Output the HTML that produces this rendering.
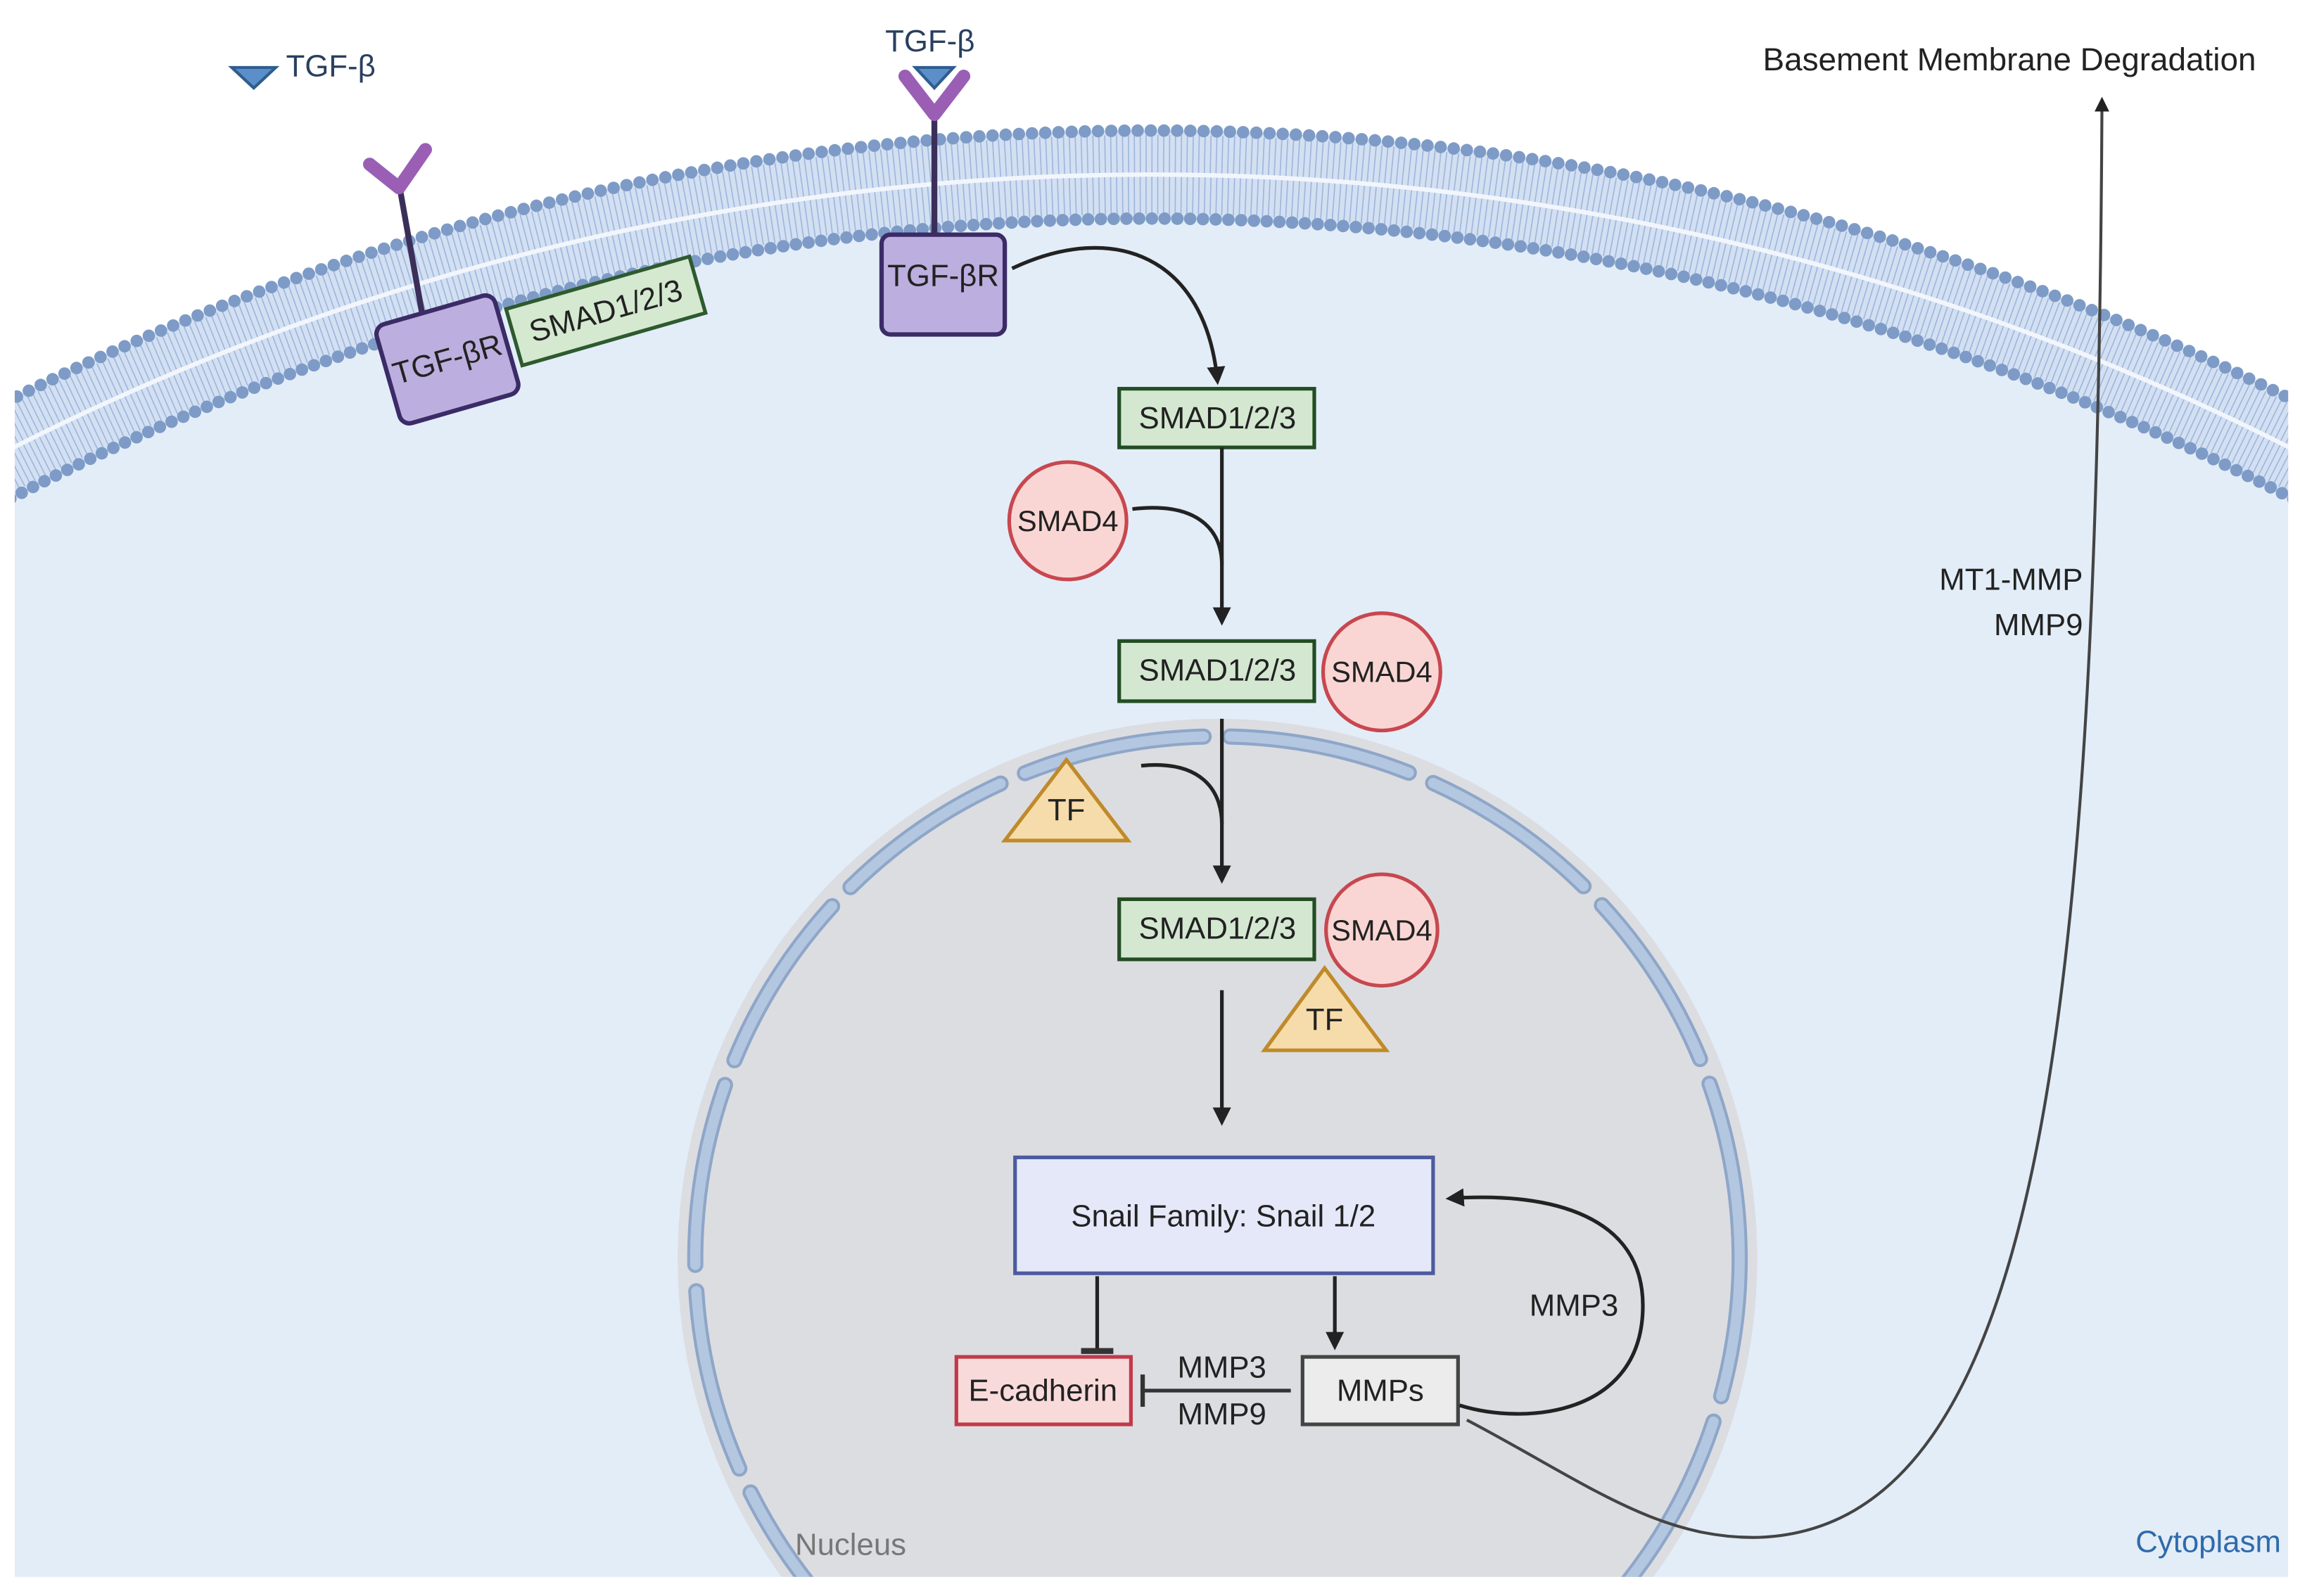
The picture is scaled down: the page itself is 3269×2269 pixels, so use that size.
<!DOCTYPE html>
<html><head><meta charset="utf-8"><style>html,body{margin:0;padding:0;background:#fff;width:3269px;height:2269px;overflow:hidden}svg{display:block}</style></head>
<body>
<svg width="3269" height="2269" viewBox="0 0 1568 1088" preserveAspectRatio="none" xmlns="http://www.w3.org/2000/svg" font-family="Liberation Sans, sans-serif">
<defs>
<marker id="ah" viewBox="0 0 10 10" refX="8" refY="5" markerWidth="5" markerHeight="5" orient="auto"><path d="M0,0L10,5L0,10z" fill="#222"/></marker>
<clipPath id="cell"><rect x="10" y="0" width="1550" height="1075"/></clipPath>
</defs>
<rect width="1568" height="1088" fill="#fff"/>
<g clip-path="url(#cell)">
<circle cx="785" cy="1829" r="1712" fill="#e3edf8"/>
<circle cx="785" cy="1829" r="1710" fill="none" stroke="#d3e0f2" stroke-width="60"/>
<circle cx="785" cy="1829" r="1724" fill="none" stroke="#9fb6dc" stroke-width="26" stroke-dasharray="0.8 3.2"/>
<circle cx="785" cy="1829" r="1696" fill="none" stroke="#9fb6dc" stroke-width="26" stroke-dasharray="0.8 3.2"/>
<circle cx="785" cy="1829" r="1710" fill="none" stroke="#f2f6fc" stroke-width="3"/>
<circle cx="785" cy="1829" r="1740" fill="none" stroke="#7d9bc6" stroke-width="8.5" stroke-linecap="round" stroke-dasharray="0 9"/>
<circle cx="785" cy="1829" r="1680" fill="none" stroke="#7d9bc6" stroke-width="8.5" stroke-linecap="round" stroke-dasharray="0 8.7"/>
<circle cx="830" cy="858" r="368" fill="#dcdde1"/>
<circle cx="830" cy="858" r="356" fill="none" stroke="#8ea6c8" stroke-width="11" stroke-dasharray="125 18" stroke-dashoffset="30" stroke-linecap="round"/>
<circle cx="830" cy="858" r="356" fill="none" stroke="#b4c7e1" stroke-width="7" stroke-dasharray="125 18" stroke-dashoffset="30" stroke-linecap="round"/>
</g>
<rect x="0" y="0" width="10" height="1088" fill="#fff"/>
<rect x="1560" y="0" width="8" height="1088" fill="#fff"/>
<rect x="0" y="1075" width="1568" height="13" fill="#fff"/>

<path d="M158,46L188,46L173,60z" fill="#5b8fc9" stroke="#2f5d8f" stroke-width="2"/>
<text x="195" y="52" font-size="21" fill="#2a3f5f">TGF-β</text>
<line x1="272" y1="125" x2="288" y2="215" stroke="#3b2f5a" stroke-width="4"/>
<path d="M252,112L272,128L290,102" fill="none" stroke="#9a5fb5" stroke-width="9" stroke-linecap="round" stroke-linejoin="round"/>
<g transform="rotate(-16 305 245)">
<rect x="263" y="210" width="84" height="70" rx="7" fill="#bcaede" stroke="#3b2b66" stroke-width="3"/>
<text x="305" y="252" font-size="21" text-anchor="middle" fill="#222">TGF-βR</text>
</g>
<g transform="rotate(-16 413 212)">
<rect x="348" y="192" width="130" height="40" fill="#d5e8d0" stroke="#2e5a2e" stroke-width="2.5"/>
<text x="413" y="219" font-size="21" text-anchor="middle" fill="#222">SMAD1/2/3</text>
</g>

<text x="634" y="35" font-size="21" text-anchor="middle" fill="#2a3f5f">TGF-β</text>
<line x1="637" y1="75" x2="637" y2="160" stroke="#3b2f5a" stroke-width="4"/>
<path d="M617,52L637,78L657,52" fill="none" stroke="#9a5fb5" stroke-width="9" stroke-linecap="round" stroke-linejoin="round"/>
<path d="M624,46L650,46L637,60z" fill="#5b8fc9" stroke="#2f5d8f" stroke-width="2"/>
<rect x="601" y="160" width="84" height="68" rx="6" fill="#bcaede" stroke="#3b2b66" stroke-width="3"/>
<text x="643" y="195" font-size="21" text-anchor="middle" fill="#222">TGF-βR</text>

<path d="M690,183C760,150 822,175 830,260" fill="none" stroke="#222" stroke-width="2.5" marker-end="url(#ah)"/>
<rect x="763" y="265" width="133" height="40" fill="#d4e8d1" stroke="#234d23" stroke-width="2.5"/>
<text x="830" y="292" font-size="21" text-anchor="middle" fill="#222">SMAD1/2/3</text>
<circle cx="728" cy="355" r="40" fill="#f9d6d4" stroke="#c8474f" stroke-width="2.5"/>
<text x="728" y="362" font-size="20" text-anchor="middle" fill="#222">SMAD4</text>
<line x1="833" y1="305" x2="833" y2="424" stroke="#222" stroke-width="2.5" marker-end="url(#ah)"/>
<path d="M772,347C815,342 833,360 833,385" fill="none" stroke="#222" stroke-width="2.5"/>
<rect x="763" y="437" width="133" height="41" fill="#d4e8d1" stroke="#234d23" stroke-width="2.5"/>
<text x="830" y="464" font-size="21" text-anchor="middle" fill="#222">SMAD1/2/3</text>
<circle cx="942" cy="458" r="40" fill="#f9d6d4" stroke="#c8474f" stroke-width="2.5"/>
<text x="942" y="465" font-size="20" text-anchor="middle" fill="#222">SMAD4</text>
<line x1="833" y1="490" x2="833" y2="600" stroke="#222" stroke-width="2.5" marker-end="url(#ah)"/>
<path d="M778,522C818,518 833,538 833,562" fill="none" stroke="#222" stroke-width="2.5"/>
<path d="M685,573L727,518L769,573z" fill="#f6dcab" stroke="#c08a2a" stroke-width="2.5"/>
<text x="727" y="559" font-size="21" text-anchor="middle" fill="#222">TF</text>
<rect x="763" y="613" width="133" height="41" fill="#d4e8d1" stroke="#234d23" stroke-width="2.5"/>
<text x="830" y="640" font-size="21" text-anchor="middle" fill="#222">SMAD1/2/3</text>
<circle cx="942" cy="634" r="38" fill="#f9d6d4" stroke="#c8474f" stroke-width="2.5"/>
<text x="942" y="641" font-size="20" text-anchor="middle" fill="#222">SMAD4</text>
<path d="M862,716L903,660L945,716z" fill="#f6dcab" stroke="#c08a2a" stroke-width="2.5"/>
<text x="903" y="702" font-size="21" text-anchor="middle" fill="#222">TF</text>
<line x1="833" y1="675" x2="833" y2="765" stroke="#222" stroke-width="2.5" marker-end="url(#ah)"/>

<rect x="692" y="789" width="285" height="79" fill="#e5e8f8" stroke="#4d5aa0" stroke-width="2.5"/>
<text x="834" y="836" font-size="21" text-anchor="middle" fill="#222">Snail Family: Snail 1/2</text>
<line x1="748" y1="870" x2="748" y2="921" stroke="#222" stroke-width="2.5"/>
<line x1="737" y1="921" x2="759" y2="921" stroke="#333" stroke-width="4"/>
<line x1="910" y1="870" x2="910" y2="918" stroke="#222" stroke-width="2.5" marker-end="url(#ah)"/>
<rect x="652" y="925" width="119" height="46" fill="#f9dada" stroke="#c03a4a" stroke-width="2.5"/>
<text x="711" y="955" font-size="21" text-anchor="middle" fill="#222">E-cadherin</text>
<rect x="888" y="925" width="106" height="46" fill="#ececec" stroke="#444" stroke-width="2.5"/>
<text x="941" y="955" font-size="21" text-anchor="middle" fill="#222">MMPs</text>
<line x1="780" y1="948" x2="880" y2="948" stroke="#333" stroke-width="2.5"/>
<line x1="779" y1="937" x2="779" y2="959" stroke="#333" stroke-width="3"/>
<text x="833" y="939" font-size="21" text-anchor="middle" fill="#222">MMP3</text>
<text x="833" y="971" font-size="21" text-anchor="middle" fill="#222">MMP9</text>
<path d="M995,958C1040,972 1120,965 1120,890C1120,830 1060,812 988,817" fill="none" stroke="#222" stroke-width="2.5" marker-end="url(#ah)"/>
<text x="1073" y="897" font-size="21" text-anchor="middle" fill="#222">MMP3</text>
<path d="M1000,968C1080,1010 1130,1050 1200,1048C1390,1040 1430,700 1433,68" fill="none" stroke="#444" stroke-width="2" marker-end="url(#ah)"/>

<text x="1538" y="48" font-size="22" text-anchor="end" fill="#222">Basement Membrane Degradation</text>
<text x="1420" y="402" font-size="21" text-anchor="end" fill="#222">MT1-MMP</text>
<text x="1420" y="433" font-size="21" text-anchor="end" fill="#222">MMP9</text>
<text x="1555" y="1058" font-size="21" text-anchor="end" fill="#2f6bab">Cytoplasm</text>
<text x="542" y="1060" font-size="21" fill="#777">Nucleus</text>
</svg>
</body></html>
